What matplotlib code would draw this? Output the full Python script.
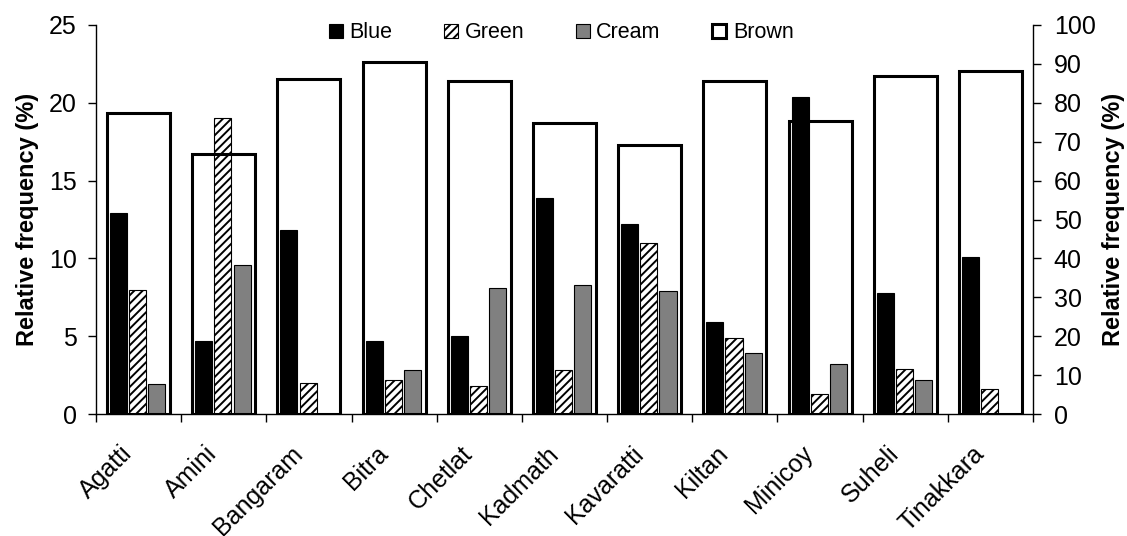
import numpy as np
import matplotlib
matplotlib.use("Agg")
import matplotlib.pyplot as plt
from matplotlib.ticker import FixedLocator

plt.rcParams['font.family'] = ['Liberation Sans', 'DejaVu Sans']
plt.rcParams['hatch.linewidth'] = 1.4

islands = ["Agatti", "Amini", "Bangaram", "Bitra", "Chetlat", "Kadmath",
           "Kavaratti", "Kiltan", "Minicoy", "Suheli", "Tinakkara"]
blue = [12.9, 4.7, 11.8, 4.7, 5.0, 13.9, 12.2, 5.9, 20.4, 7.8, 10.1]
green = [8.0, 19.0, 2.0, 2.2, 1.8, 2.8, 11.0, 4.9, 1.3, 2.9, 1.6]
cream = [1.9, 9.6, 0.0, 2.8, 8.1, 8.3, 7.9, 3.9, 3.2, 2.2, 0.0]
brown = [77.3, 66.8, 86.2, 90.4, 85.5, 74.9, 69.1, 85.5, 75.2, 87.0, 88.3]

left_ticks = [0, 5, 10, 15, 20, 25]
right_ticks = [0, 10, 20, 30, 40, 50, 60, 70, 80, 90, 100]

fig = plt.figure(figsize=(11.27, 5.36), dpi=100)
ax = fig.add_axes([96/1127, 1-414/536, (1033-96)/1127, (414-25)/536])
ax2 = ax.twinx()

x = np.arange(len(islands)) + 0.5
w = 0.2
shift = -0.01
ax.bar(x - 0.225 + shift, blue, w, color='black', edgecolor='black', linewidth=0.8, label='Blue', zorder=2)
ax.bar(x + shift, green, w, color='white', edgecolor='black', hatch='////', linewidth=0.8, label='Green', zorder=2)
ax.bar(x + 0.225 + shift, cream, w, color='#808080', edgecolor='black', linewidth=0.8, label='Cream', zorder=2)
ax2.bar(x, brown, 0.74, facecolor='none', edgecolor='black', linewidth=2.2, label='Brown', zorder=3)

ax.set_xlim(0, len(islands))
ax.set_ylim(0, 25)
ax2.set_ylim(0, 100)
ax.set_yticks(left_ticks)
ax2.set_yticks(right_ticks)

# label anchors sit slightly left of the category centre (invisible major ticks)
ax.set_xticks(x - 0.12)
ax.set_xticklabels(islands, rotation=45, ha='right', va='center', rotation_mode='anchor', fontsize=18)
ax.xaxis.set_minor_locator(FixedLocator(np.arange(len(islands) + 1)))
ax.tick_params(axis='x', which='major', length=0, pad=26)
ax.tick_params(axis='x', which='minor', length=6, width=1, direction='out')
ax.tick_params(axis='y', length=6, width=1, direction='out', labelsize=18, pad=8)
ax2.tick_params(axis='y', length=6, width=1, direction='out', labelsize=18, pad=9)

for a in (ax, ax2):
    a.spines['top'].set_visible(False)
    for s in ('left', 'right', 'bottom'):
        a.spines[s].set_linewidth(1)
ax.spines['right'].set_visible(False)
ax2.spines['left'].set_visible(False)
ax2.spines['bottom'].set_visible(False)

ax.set_ylabel('Relative frequency (%)', fontsize=17, fontweight='bold')
ax2.set_ylabel('Relative frequency (%)', fontsize=17, fontweight='bold')
ax.yaxis.set_label_coords(-0.061, 0.5)
ax2.yaxis.set_label_coords(1.074, 0.5)

h1, l1 = ax.get_legend_handles_labels()
h2, l2 = ax2.get_legend_handles_labels()
fig.legend(h1 + h2, l1 + l2, loc='center', bbox_to_anchor=(0.498, 1-33/536), ncol=4,
           frameon=False, fontsize=15.5, handlelength=0.65, handleheight=0.65,
           handletextpad=0.3, columnspacing=2.4)

fig.savefig('out.png', dpi=100)
